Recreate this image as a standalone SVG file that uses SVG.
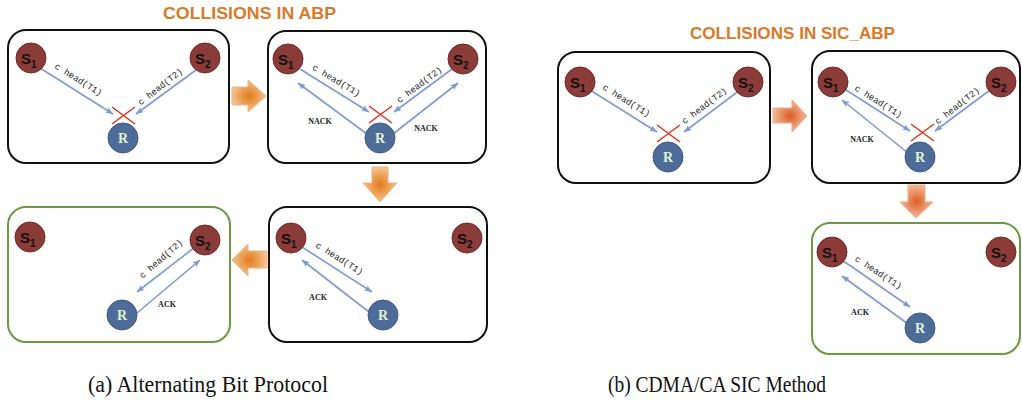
<svg xmlns="http://www.w3.org/2000/svg" width="1022" height="406" viewBox="0 0 1022 406">
  <style>
    .frame { fill: #ffffff; stroke: #111111; stroke-width: 2; }
    .frame-ok { fill: #ffffff; stroke: #6b9a3c; stroke-width: 2; }
    .snode { fill: #8b3b38; stroke: #6e2b29; stroke-width: 1; }
    .rnode { fill: #4f6b98; stroke: #3f5986; stroke-width: 1; }
    .slabel { font-family: "Liberation Sans", Arial, sans-serif; font-weight: bold; font-size: 15px; fill: #111111; }
    .ssub { font-family: "Liberation Sans", Arial, sans-serif; font-weight: bold; font-size: 10px; fill: #111111; }
    .rlabel { font-family: "Liberation Serif", "Times New Roman", serif; font-weight: bold; font-size: 14px; fill: #dff5d2; text-anchor: middle; }
    .edge { stroke: #7d9cd0; stroke-width: 1.6; fill: none; marker-end: url(#tip); }
    .cross { stroke: #e0321e; stroke-width: 1.5; fill: none; }
    .msg { font-family: "Liberation Mono", "Courier New", monospace; font-size: 9px; fill: #222222; text-anchor: middle; }
    .ack { font-family: "Liberation Serif", "Times New Roman", serif; font-weight: bold; font-size: 8px; fill: #1a1a1a; text-anchor: middle; }
    .title { font-family: "Liberation Sans", Arial, sans-serif; font-weight: bold; font-size: 16.5px; fill: #d97a2b; }
    .caption { font-family: "Liberation Serif", "Times New Roman", serif; font-size: 24px; fill: #111111; }
    .step-a { fill: url(#glowA); stroke: #efb27a; stroke-width: 1; }
    .step-b { fill: url(#glowB); stroke: #eea98a; stroke-width: 1; }
  </style>
  <defs>
    <marker id="tip" viewBox="0 0 8 6" refX="7.5" refY="3" markerWidth="8" markerHeight="6" markerUnits="userSpaceOnUse" orient="auto">
      <path d="M0,0 L8,3 L0,6 L1.5,3 z" fill="#7d9cd0"/>
    </marker>
    <radialGradient id="glowA" cx="0.5" cy="0.5" r="0.6">
      <stop offset="0" stop-color="#e27a18"/>
      <stop offset="1" stop-color="#f7d3aa"/>
    </radialGradient>
    <radialGradient id="glowB" cx="0.5" cy="0.5" r="0.6">
      <stop offset="0" stop-color="#db5e22"/>
      <stop offset="1" stop-color="#f8cdb2"/>
    </radialGradient>
  </defs>

  <!-- headings -->
  <text class="title" x="163" y="19" textLength="173" lengthAdjust="spacingAndGlyphs">COLLISIONS IN ABP</text>
  <text class="title" x="690" y="39" textLength="205" lengthAdjust="spacingAndGlyphs">COLLISIONS IN SIC_ABP</text>

  <!-- frames -->
  <g id="frames">
    <rect id="frame-a1" class="frame" x="8" y="30" width="221" height="133" rx="18"/>
    <rect id="frame-a2" class="frame" x="268" y="31" width="218" height="132" rx="18"/>
    <rect id="frame-a3" class="frame-ok" x="8" y="207" width="222" height="135" rx="18"/>
    <rect id="frame-a4" class="frame" x="269" y="207" width="218" height="135" rx="18"/>
    <rect id="frame-b1" class="frame" x="558" y="52" width="212" height="131" rx="18"/>
    <rect id="frame-b2" class="frame" x="812" y="51" width="208" height="132" rx="18"/>
    <rect id="frame-b3" class="frame-ok" x="812" y="223" width="208" height="131" rx="18"/>
  </g>

  <!-- step arrows between stages -->
  <g id="steps">
    <polygon id="step-a12" class="step-a" points="232,87 248,87 248,80 266,96 248,112 248,105 232,105"/>
    <polygon id="step-a24" class="step-a" points="372,167 388,167 388,183 397,183 380,202 363,183 372,183"/>
    <polygon id="step-a43" class="step-a" points="267,251 248,251 248,244 232,260 248,276 248,268 267,268"/>
    <polygon id="step-b12" class="step-b" points="773,108 792,108 792,100 807,116 792,132 792,123 773,123"/>
    <polygon id="step-b23" class="step-b" points="908,185 925,185 925,202 933,202 916,218 900,202 908,202"/>
  </g>

  <!-- connectors -->
  <g id="connectors">
    <!-- stage a1 -->
    <line class="edge" x1="40" y1="68" x2="113" y2="114"/>
    <line class="edge" x1="196" y1="70" x2="136" y2="114"/>
    <!-- stage a2 -->
    <line class="edge" x1="300" y1="69" x2="369" y2="112"/>
    <line class="edge" x1="367" y1="134" x2="298" y2="83"/>
    <line class="edge" x1="452" y1="69" x2="394" y2="112"/>
    <line class="edge" x1="393" y1="134" x2="458" y2="83"/>
    <!-- stage a3 -->
    <line class="edge" x1="195" y1="247" x2="137" y2="292"/>
    <line class="edge" x1="137" y1="313" x2="200" y2="260"/>
    <!-- stage a4 -->
    <line class="edge" x1="302" y1="247" x2="372" y2="292"/>
    <line class="edge" x1="369" y1="312" x2="302" y2="260"/>
    <!-- stage b1 -->
    <line class="edge" x1="590" y1="90" x2="657" y2="132"/>
    <line class="edge" x1="740" y1="90" x2="684" y2="132"/>
    <!-- stage b2 -->
    <line class="edge" x1="843" y1="88" x2="910" y2="131"/>
    <line class="edge" x1="908" y1="153" x2="842" y2="100"/>
    <line class="edge" x1="990" y1="90" x2="935" y2="131"/>
    <!-- stage b3 -->
    <line class="edge" x1="842" y1="260" x2="910" y2="307"/>
    <line class="edge" x1="908" y1="324" x2="842" y2="276"/>

    <!-- collision marks -->
    <path class="cross" d="M112,107 L135,124 M135,107 L112,124"/>
    <path class="cross" d="M369,106 L392,123 M392,106 L369,123"/>
    <path class="cross" d="M657,125 L680,142 M680,125 L657,142"/>
    <path class="cross" d="M911,124 L934,141 M934,124 L911,141"/>

    <!-- message labels -->
    <text class="msg" transform="translate(77,82) rotate(32)">c head(T1)</text>
    <text class="msg" transform="translate(162,89) rotate(-38)">c head(T2)</text>
    <text class="msg" transform="translate(335,83) rotate(31)">c head(T1)</text>
    <text class="msg" transform="translate(421,87) rotate(-37)">c head(T2)</text>
    <text class="ack" x="320" y="124">NACK</text>
    <text class="ack" x="426" y="131">NACK</text>
    <text class="msg" transform="translate(163,261) rotate(-41)">c head(T2)</text>
    <text class="ack" x="167" y="307">ACK</text>
    <text class="msg" transform="translate(338,261) rotate(32)">c head(T1)</text>
    <text class="ack" x="318" y="300">ACK</text>
    <text class="msg" transform="translate(625,103) rotate(32)">c head(T1)</text>
    <text class="msg" transform="translate(706,108) rotate(-37)">c head(T2)</text>
    <text class="msg" transform="translate(877,104) rotate(32)">c head(T1)</text>
    <text class="msg" transform="translate(959,108) rotate(-38)">c head(T2)</text>
    <text class="ack" x="862" y="142">NACK</text>
    <text class="msg" transform="translate(877,275) rotate(33)">c head(T1)</text>
    <text class="ack" x="860" y="315">ACK</text>
  </g>

  <!-- stage a1 nodes -->
  <g id="a1-s1"><circle class="snode" cx="31" cy="58" r="15"/><text class="slabel" x="21" y="64">S</text><text class="ssub" x="31" y="68">1</text></g>
  <g id="a1-s2"><circle class="snode" cx="205" cy="58" r="15"/><text class="slabel" x="195" y="64">S</text><text class="ssub" x="205" y="68">2</text></g>
  <g id="a1-r"><circle class="rnode" cx="123" cy="138" r="15"/><text class="rlabel" x="123" y="143">R</text></g>

  <!-- stage a2 nodes -->
  <g id="a2-s1"><circle class="snode" cx="288" cy="59" r="15"/><text class="slabel" x="278" y="65">S</text><text class="ssub" x="288" y="69">1</text></g>
  <g id="a2-s2"><circle class="snode" cx="463" cy="59" r="15"/><text class="slabel" x="453" y="65">S</text><text class="ssub" x="463" y="69">2</text></g>
  <g id="a2-r"><circle class="rnode" cx="380" cy="138" r="15"/><text class="rlabel" x="380" y="143">R</text></g>

  <!-- stage a3 nodes -->
  <g id="a3-s1"><circle class="snode" cx="30" cy="237" r="15"/><text class="slabel" x="20" y="243">S</text><text class="ssub" x="30" y="247">1</text></g>
  <g id="a3-s2"><circle class="snode" cx="205" cy="240" r="15"/><text class="slabel" x="195" y="246">S</text><text class="ssub" x="205" y="250">2</text></g>
  <g id="a3-r"><circle class="rnode" cx="122" cy="315" r="15"/><text class="rlabel" x="122" y="320">R</text></g>

  <!-- stage a4 nodes -->
  <g id="a4-s1"><circle class="snode" cx="291" cy="238" r="15"/><text class="slabel" x="281" y="244">S</text><text class="ssub" x="291" y="248">1</text></g>
  <g id="a4-s2"><circle class="snode" cx="467" cy="238" r="15"/><text class="slabel" x="457" y="244">S</text><text class="ssub" x="467" y="248">2</text></g>
  <g id="a4-r"><circle class="rnode" cx="383" cy="315" r="15"/><text class="rlabel" x="383" y="320">R</text></g>

  <!-- stage b1 nodes -->
  <g id="b1-s1"><circle class="snode" cx="580" cy="82" r="15"/><text class="slabel" x="570" y="88">S</text><text class="ssub" x="580" y="92">1</text></g>
  <g id="b1-s2"><circle class="snode" cx="748" cy="82" r="15"/><text class="slabel" x="738" y="88">S</text><text class="ssub" x="748" y="92">2</text></g>
  <g id="b1-r"><circle class="rnode" cx="668" cy="157" r="15"/><text class="rlabel" x="668" y="162">R</text></g>

  <!-- stage b2 nodes -->
  <g id="b2-s1"><circle class="snode" cx="833" cy="82" r="15"/><text class="slabel" x="823" y="88">S</text><text class="ssub" x="833" y="92">1</text></g>
  <g id="b2-s2"><circle class="snode" cx="1001" cy="82" r="15"/><text class="slabel" x="991" y="88">S</text><text class="ssub" x="1001" y="92">2</text></g>
  <g id="b2-r"><circle class="rnode" cx="920" cy="157" r="15"/><text class="rlabel" x="920" y="162">R</text></g>

  <!-- stage b3 nodes -->
  <g id="b3-s1"><circle class="snode" cx="832" cy="252" r="15"/><text class="slabel" x="822" y="258">S</text><text class="ssub" x="832" y="262">1</text></g>
  <g id="b3-s2"><circle class="snode" cx="1001" cy="252" r="15"/><text class="slabel" x="991" y="258">S</text><text class="ssub" x="1001" y="262">2</text></g>
  <g id="b3-r"><circle class="rnode" cx="920" cy="328" r="15"/><text class="rlabel" x="920" y="333">R</text></g>

  <!-- sub-figure captions -->
  <text class="caption" x="88" y="392" textLength="240" lengthAdjust="spacingAndGlyphs">(a) Alternating Bit Protocol</text>
  <text class="caption" x="608" y="392" textLength="218" lengthAdjust="spacingAndGlyphs">(b) CDMA/CA SIC Method</text>
</svg>
